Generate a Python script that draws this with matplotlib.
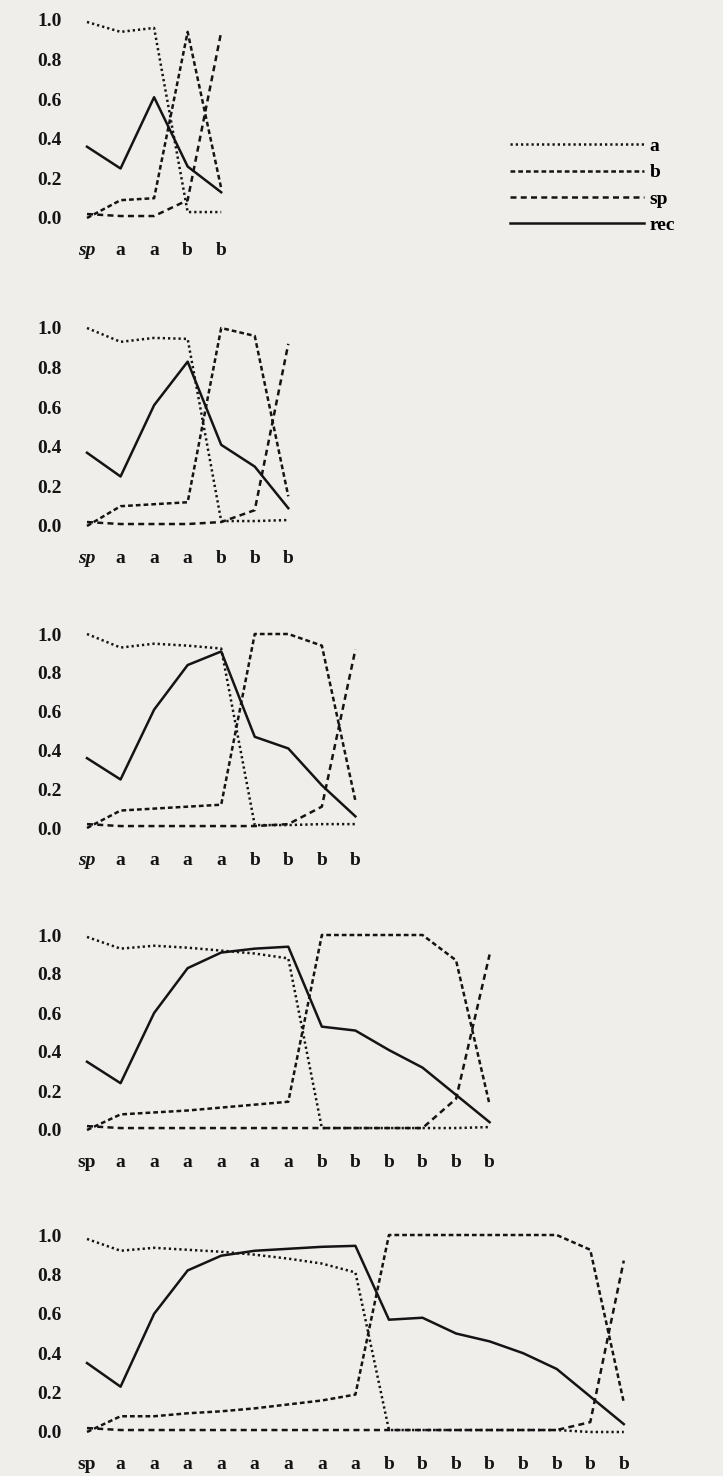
import matplotlib
matplotlib.use('Agg')
import matplotlib.pyplot as plt
from matplotlib.lines import Line2D

# panel 1
labels1 = ['sp', 'a', 'a', 'b', 'b']
p1_a = [0.99, 0.94, 0.96, 0.03, 0.03]
p1_b = [0.0, 0.09, 0.10, 0.94, 0.15]
p1_sp = [0.02, 0.01, 0.01, 0.09, 0.94]
p1_rec = [0.36, 0.25, 0.61, 0.26, 0.13]

# panel 2
labels2 = ['sp', 'a', 'a', 'a', 'b', 'b', 'b']
p2_a = [1.0, 0.93, 0.95, 0.945, 0.025, 0.025, 0.03]
p2_b = [0.0, 0.10, 0.11, 0.12, 1.0, 0.96, 0.15]
p2_sp = [0.02, 0.01, 0.01, 0.01, 0.02, 0.08, 0.92]
p2_rec = [0.37, 0.25, 0.61, 0.83, 0.41, 0.30, 0.09]

# panel 3
labels3 = ['sp', 'a', 'a', 'a', 'a', 'b', 'b', 'b', 'b']
p3_a = [1.0, 0.93, 0.95, 0.94, 0.925, 0.015, 0.015, 0.02, 0.02]
p3_b = [0.0, 0.09, 0.10, 0.11, 0.12, 1.0, 1.0, 0.94, 0.14]
p3_sp = [0.02, 0.01, 0.01, 0.01, 0.01, 0.01, 0.02, 0.11, 0.92]
p3_rec = [0.36, 0.25, 0.61, 0.84, 0.91, 0.47, 0.41, 0.22, 0.06]

# panel 4
labels4 = ['sp', 'a', 'a', 'a', 'a', 'a', 'a', 'b', 'b', 'b', 'b', 'b', 'b']
p4_a = [0.99, 0.93, 0.945, 0.935, 0.92, 0.905, 0.88, 0.01, 0.01, 0.01, 0.01, 0.01, 0.015]
p4_b = [0.0, 0.08, 0.09, 0.10, 0.115, 0.13, 0.145, 1.0, 1.0, 1.0, 1.0, 0.87, 0.13]
p4_sp = [0.02, 0.01, 0.01, 0.01, 0.01, 0.01, 0.01, 0.01, 0.01, 0.01, 0.01, 0.16, 0.90]
p4_rec = [0.35, 0.24, 0.60, 0.83, 0.91, 0.93, 0.94, 0.53, 0.51, 0.41, 0.32, 0.18, 0.04]

# panel 5
labels5 = ['sp', 'a', 'a', 'a', 'a', 'a', 'a', 'a', 'a',
           'b', 'b', 'b', 'b', 'b', 'b', 'b', 'b']
p5_a = [0.98, 0.92, 0.935, 0.925, 0.915, 0.90, 0.88, 0.855, 0.81,
        0.01, 0.01, 0.01, 0.01, 0.01, 0.01, 0.0, 0.0]
p5_b = [0.0, 0.08, 0.08, 0.095, 0.105, 0.12, 0.14, 0.16, 0.19,
        1.0, 1.0, 1.0, 1.0, 1.0, 1.0, 0.925, 0.15]
p5_sp = [0.02, 0.01, 0.01, 0.01, 0.01, 0.01, 0.01, 0.01, 0.01,
         0.01, 0.01, 0.01, 0.01, 0.01, 0.01, 0.05, 0.87]
p5_rec = [0.35, 0.23, 0.60, 0.82, 0.895, 0.92, 0.93, 0.94, 0.945,
          0.57, 0.58, 0.50, 0.46, 0.40, 0.32, 0.18, 0.04]

yticks = [0.0, 0.2, 0.4, 0.6, 0.8, 1.0]
legend_names = ['a', 'b', 'sp', 'rec']

panels = [
    (labels1, p1_a, p1_b, p1_sp, p1_rec),
    (labels2, p2_a, p2_b, p2_sp, p2_rec),
    (labels3, p3_a, p3_b, p3_sp, p3_rec),
    (labels4, p4_a, p4_b, p4_sp, p4_rec),
    (labels5, p5_a, p5_b, p5_sp, p5_rec),
]

# pixel layout: (y of 1.0, y of 0.0) per panel
rows = [(20, 218), (328, 526), (634, 828), (935, 1130), (1235, 1432)]

W, H = 723, 1476
bg = '#efeeeb'
ink = '#141414'
lw = 1.8
style_a = dict(color=ink, lw=lw, linestyle=(0, (0.9, 1.2)))
style_b = dict(color=ink, lw=lw, linestyle=(0, (1.9, 1.2)))
style_sp = dict(color=ink, lw=lw, linestyle=(0, (2.4, 1.7)))
style_rec = dict(color=ink, lw=lw, linestyle='-')

plt.rcParams['font.family'] = ['Liberation Serif', 'DejaVu Serif']

fig = plt.figure(figsize=(W / 100, H / 100), dpi=100)
fig.patch.set_facecolor(bg)

x0 = 87
step = 33.55

for i, (labels, a, b, sp, rec) in enumerate(panels):
    top, bot = rows[i]
    n = len(labels)
    w = (n - 1) * step
    ax = fig.add_axes([x0 / W, 1 - bot / H, w / W, (bot - top) / H])
    ax.set_facecolor('none')
    xs = list(range(n))
    ax.plot(xs, a, clip_on=False, **style_a)
    ax.plot(xs, b, clip_on=False, **style_b)
    ax.plot(xs, sp, clip_on=False, **style_sp)
    ax.plot(xs, rec, clip_on=False, **style_rec)
    ax.set_xlim(0, n - 1)
    ax.set_ylim(0, 1)
    ax.set_yticks(yticks)
    ax.set_yticklabels(['%.1f' % v for v in yticks], fontsize=14, fontweight='bold')
    ax.set_xticks(xs)
    ax.set_xticklabels(labels, fontsize=14, fontweight='bold')
    if i < 3:
        ax.get_xticklabels()[0].set_style('italic')
    ax.tick_params(axis='y', length=0, pad=18, colors=ink)
    ax.tick_params(axis='x', length=0, pad=17, colors=ink)
    for s in ax.spines.values():
        s.set_visible(False)

# legend next to the first panel
handles = [Line2D([], [], **style_a), Line2D([], [], **style_b),
           Line2D([], [], **style_sp), Line2D([], [], **style_rec)]
fig.legend(handles, legend_names, loc='upper left',
           bbox_to_anchor=(492 / W, 1 - 120 / H), frameon=False,
           handlelength=6.9, handletextpad=0.3, labelspacing=0.45,
           prop={'size': 14, 'weight': 'bold'})

fig.savefig('out.png', dpi=100, facecolor=bg)
